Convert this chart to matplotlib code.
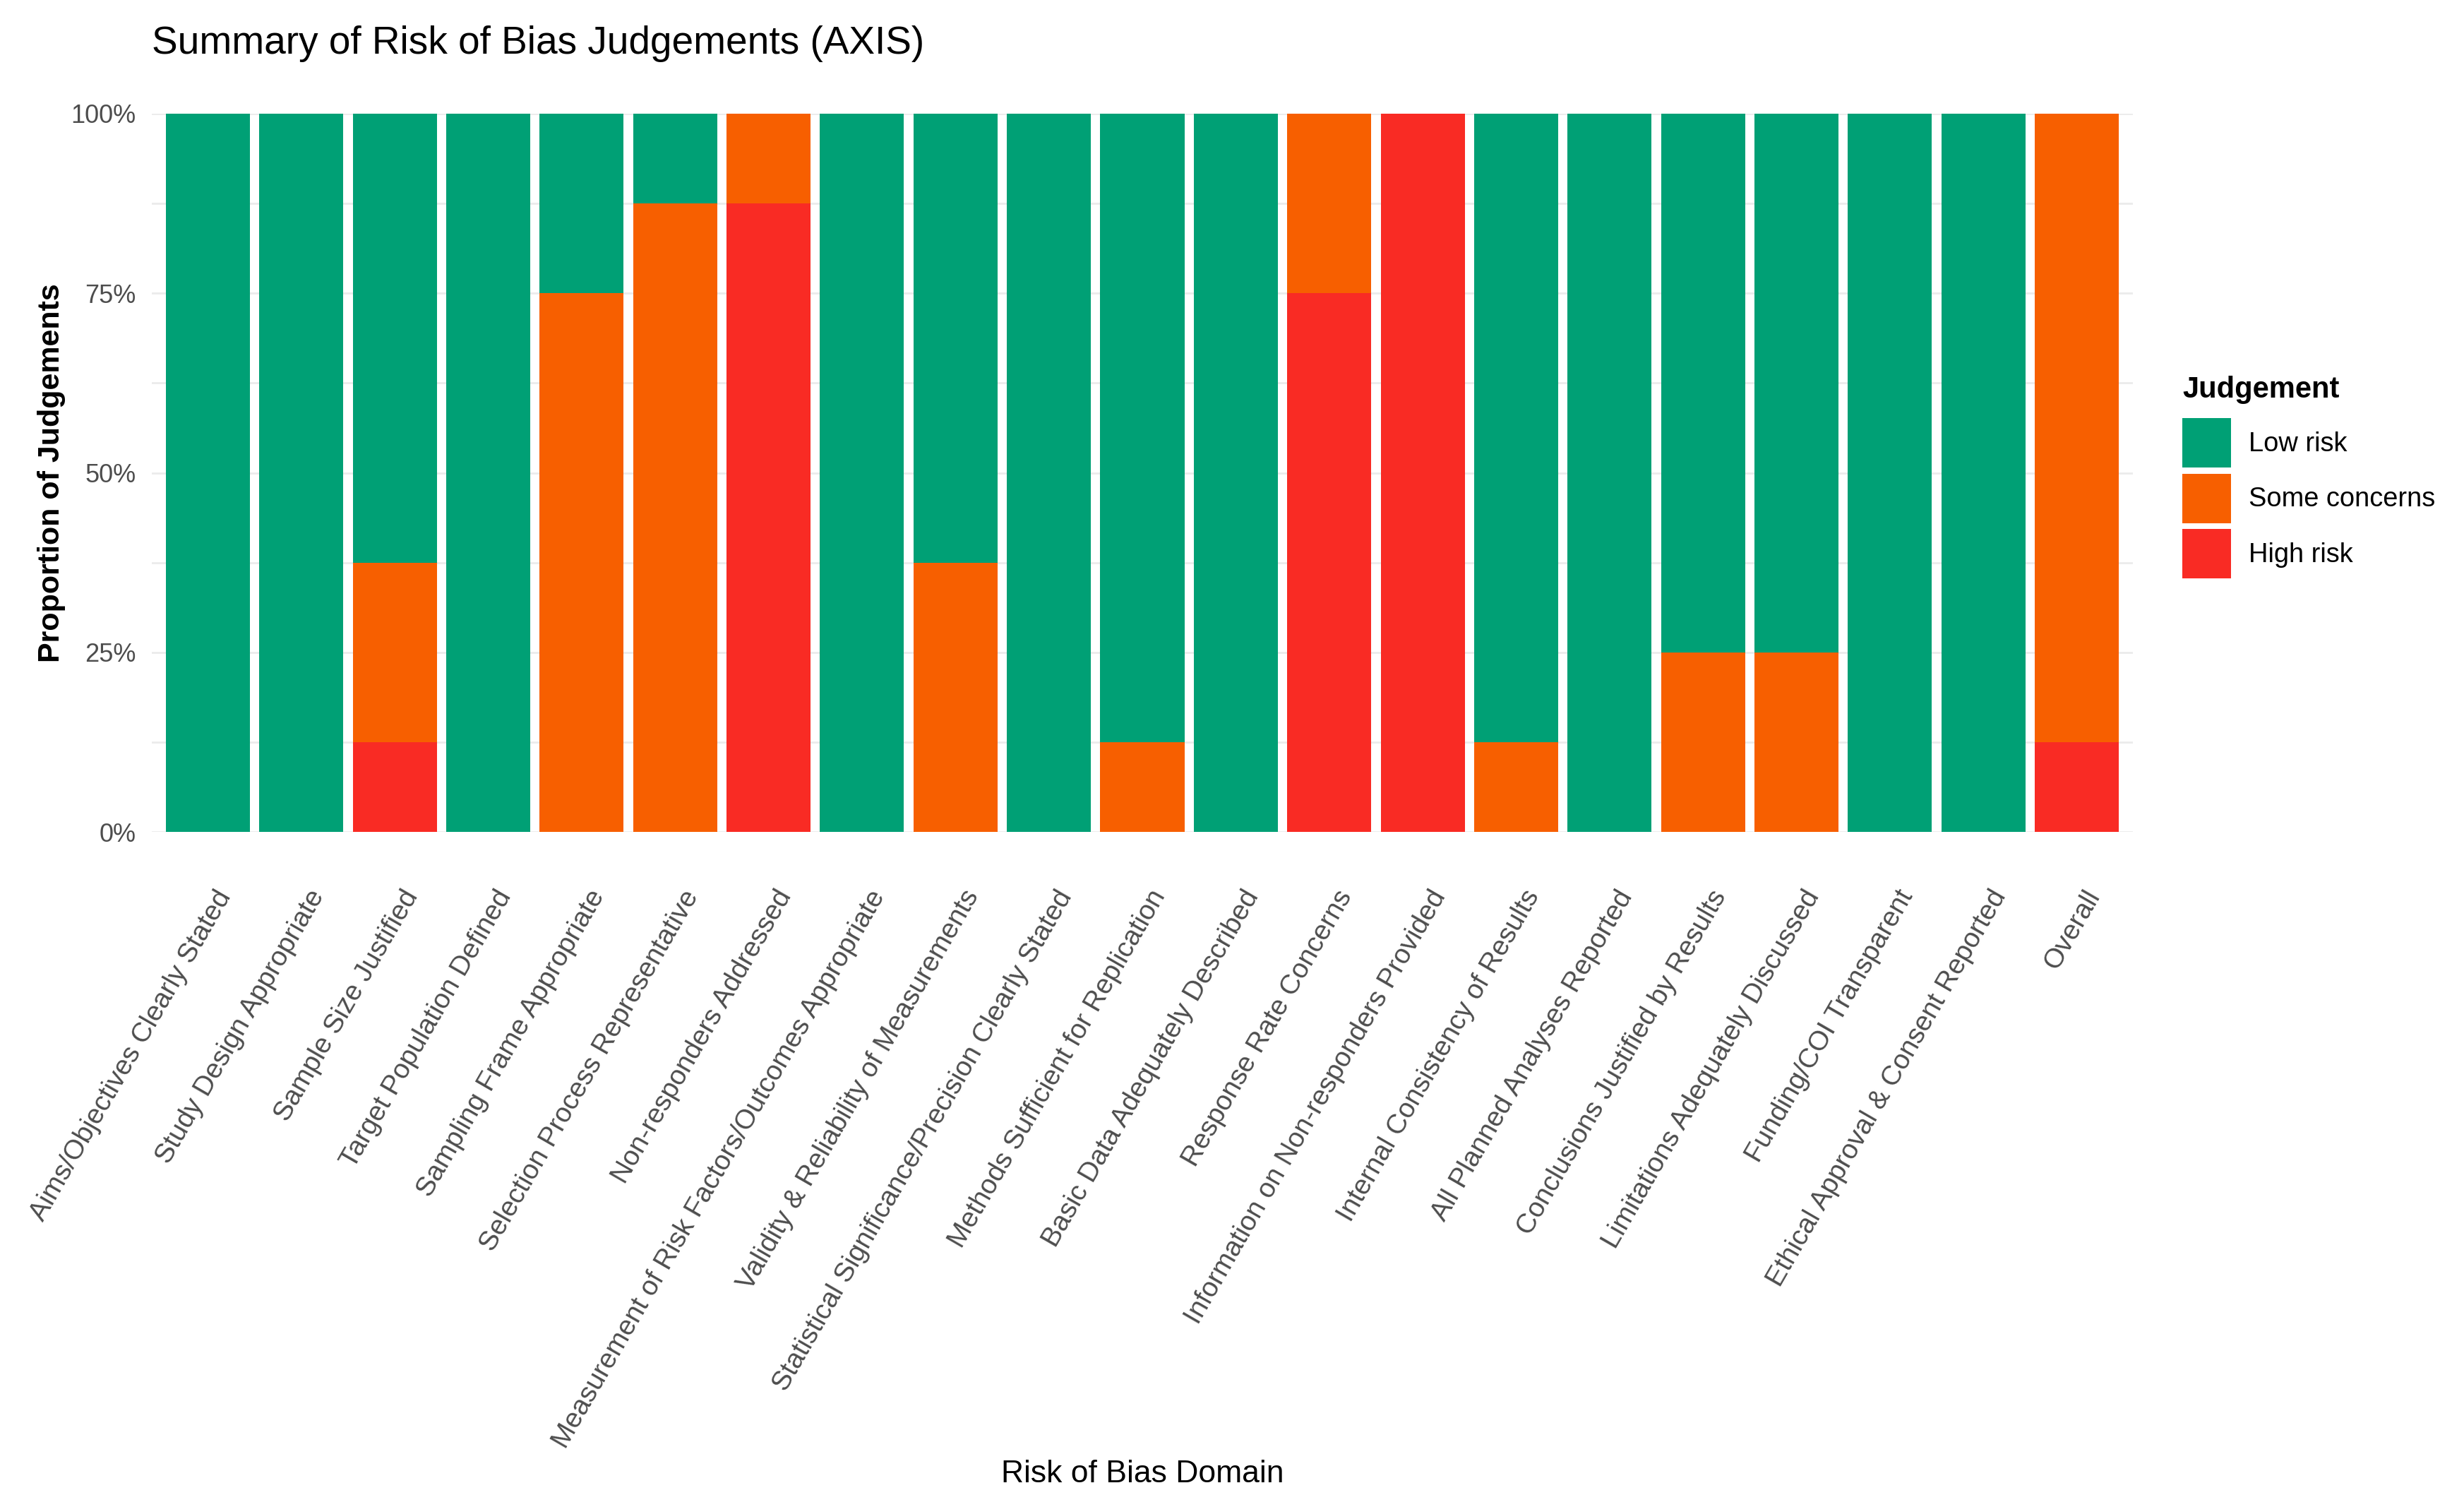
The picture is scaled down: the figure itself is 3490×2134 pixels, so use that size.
import matplotlib
matplotlib.use('Agg')
import matplotlib.pyplot as plt
import matplotlib.transforms as mtransforms
from matplotlib.patches import Patch
from matplotlib.ticker import FixedLocator
import numpy as np

plt.rcParams['font.family'] = ['Liberation Sans', 'DejaVu Sans']

domains = [
    "Aims/Objectives Clearly Stated",
    "Study Design Appropriate",
    "Sample Size Justified",
    "Target Population Defined",
    "Sampling Frame Appropriate",
    "Selection Process Representative",
    "Non-responders Addressed",
    "Measurement of Risk Factors/Outcomes Appropriate",
    "Validity & Reliability of Measurements",
    "Statistical Significance/Precision Clearly Stated",
    "Methods Sufficient for Replication",
    "Basic Data Adequately Described",
    "Response Rate Concerns",
    "Information on Non-responders Provided",
    "Internal Consistency of Results",
    "All Planned Analyses Reported",
    "Conclusions Justified by Results",
    "Limitations Adequately Discussed",
    "Funding/COI Transparent",
    "Ethical Approval & Consent Reported",
    "Overall",
]
high_risk = [0, 0, 12.5, 0, 0, 0, 87.5, 0, 0, 0, 0, 0, 75, 100, 0, 0, 0, 0, 0, 0, 12.5]
some_concerns = [0, 0, 25, 0, 75, 87.5, 12.5, 0, 37.5, 0, 12.5, 0, 25, 0, 12.5, 0, 25, 25, 0, 0, 87.5]
low_risk = [100, 100, 62.5, 100, 25, 12.5, 0, 100, 62.5, 100, 87.5, 100, 0, 0, 87.5, 100, 75, 75, 100, 100, 0]
judgements = ["Low risk", "Some concerns", "High risk"]
y_ticks = [0, 25, 50, 75, 100]
y_tick_labels = ["0%", "25%", "50%", "75%", "100%"]

C_LOW = "#00A075"
C_SOME = "#F75F00"
C_HIGH = "#F92B24"

W, H, DPI = 3491, 2134, 200
fig = plt.figure(figsize=(W / DPI, H / DPI), dpi=DPI)
fig.patch.set_facecolor('white')

pl, pr, pt, pb = 215, 3021, 161, 1178
ax = fig.add_axes([pl / W, 1 - pb / H, (pr - pl) / W, (pb - pt) / H])

x = np.arange(len(domains))
hr = np.array(high_risk)
sc = np.array(some_concerns)
lr = np.array(low_risk)
ax.bar(x, hr, width=0.9, color=C_HIGH, linewidth=0, zorder=2)
ax.bar(x, sc, width=0.9, bottom=hr, color=C_SOME, linewidth=0, zorder=2)
ax.bar(x, lr, width=0.9, bottom=hr + sc, color=C_LOW, linewidth=0, zorder=2)

ax.set_xlim(-0.6, len(domains) - 0.4)
ax.set_ylim(0, 100)
ax.set_yticks(y_ticks)
ax.set_yticklabels(y_tick_labels)
ax.yaxis.set_minor_locator(FixedLocator([12.5, 37.5, 62.5, 87.5]))
ax.grid(which='both', axis='y', color='#EBEBEB', linewidth=1.0, zorder=0)
ax.set_axisbelow(True)
for s in ax.spines.values():
    s.set_visible(False)
ax.tick_params(axis='both', which='both', length=0)
ax.tick_params(axis='y', labelsize=13, labelcolor='#4D4D4D', pad=8)
ax.tick_params(axis='x', labelsize=14, labelcolor='#4D4D4D', pad=27.5)

ax.set_xticks(x)
ax.set_xticklabels(domains, rotation=60, ha='right', va='top', rotation_mode='anchor')
offset = mtransforms.ScaledTranslation(9 / DPI, 0, fig.dpi_scale_trans)
for lab in ax.get_xticklabels():
    lab.set_transform(lab.get_transform() + offset)

ax.set_xlabel("Risk of Bias Domain", fontsize=16, color='black')
ax.xaxis.set_label_coords(0.5, (pb - 2067) / (pb - pt))
ax.set_ylabel("Proportion of Judgements", fontsize=15.5, fontweight='bold', color='black')
ax.yaxis.set_label_coords((93 - pl) / (pr - pl), 0.5)

fig.text(pl / W, 1 - 76 / H, "Summary of Risk of Bias Judgements (AXIS)",
         fontsize=19.8, color='black', ha='left', va='baseline')

handles = [Patch(facecolor=c, edgecolor='none', label=l)
           for c, l in zip([C_LOW, C_SOME, C_HIGH], judgements)]
fs = 13.7
fpx = fs * DPI / 72
key_h = 70 / fpx
hh = (key_h - 0.245) / 0.65
leg = fig.legend(handles=handles, title="Judgement", loc='upper left',
                 bbox_to_anchor=(3091 / W, 1 - 532 / H), frameon=False,
                 fontsize=fs, title_fontproperties={'size': 15, 'weight': 'bold'},
                 handlelength=69 / fpx, handleheight=hh,
                 labelspacing=8.5 / fpx, handletextpad=25 / fpx,
                 borderpad=0, borderaxespad=0, alignment='left')
leg._legend_box.sep = 20 * 72 / DPI

fig.savefig("out.png", dpi=DPI, facecolor='white')
